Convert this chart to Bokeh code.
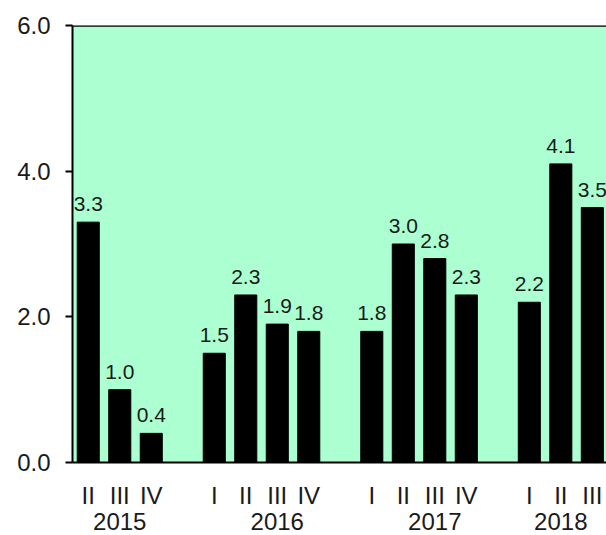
from bokeh.plotting import figure
from bokeh.models import LinearAxis, FixedTicker, Span, ColumnDataSource, Range1d
from bokeh.core.properties import value
from bokeh.embed import file_html
from bokeh.resources import INLINE

# data
quarters = ["II", "III", "IV", "I", "II", "III", "IV", "I", "II", "III", "IV", "I", "II", "III"]
years = ["2015", "2016", "2017", "2018"]
year_of = ["2015"] * 3 + ["2016"] * 4 + ["2017"] * 4 + ["2018"] * 3
values = [3.3, 1.0, 0.4, 1.5, 2.3, 1.9, 1.8, 1.8, 3.0, 2.8, 2.3, 2.2, 4.1, 3.5]
y_ticks = [0, 2, 4, 6]
y_tick_labels = ["0.0", "2.0", "4.0", "6.0"]

# slot positions with one empty slot between years
pos = []
slot = 0
prev = None
for yv in year_of:
    if prev is not None and yv != prev:
        slot += 1
    pos.append(slot)
    slot += 1
    prev = yv

year_pos = {"2015": 1, "2016": 6, "2017": 11, "2018": 15}

FONT = "Liberation Sans"
BG = "#ABFFD1"

p = figure(width=606, height=535, output_backend="svg", toolbar_location=None,
           x_range=Range1d(-0.5, 16.45), y_range=Range1d(0, 6),
           min_border_left=72, min_border_right=0, min_border_top=25, min_border_bottom=73)
p.background_fill_color = BG
p.border_fill_color = "white"
p.outline_line_color = None
p.grid.visible = False

src = ColumnDataSource(dict(x=pos, top=values, lab=[f"{v:.1f}" for v in values]))
p.vbar(x="x", top="top", bottom=0, width=0.7, source=src, fill_color="black", line_color="black")
p.text(x="x", y="top", text="lab", source=src, text_align="center", text_baseline="alphabetic",
       y_offset=-18, text_font=value(FONT), text_font_size="21px", text_color="#1a1a1a")

# top border line
p.add_layout(Span(location=6, dimension="width", line_color="black", line_width=2.5))

# y axis
ya = p.yaxis[0]
ya.ticker = FixedTicker(ticks=y_ticks)
ya.major_label_overrides = {t: l for t, l in zip(y_ticks, y_tick_labels)}
ya.axis_line_width = 2
ya.axis_line_color = "black"
ya.major_tick_line_width = 2
ya.major_tick_out = 7
ya.major_tick_in = 0
ya.minor_tick_line_color = None
ya.major_label_text_font = FONT
ya.major_label_text_font_size = "24px"
ya.major_label_text_color = "#1a1a1a"
ya.major_label_standoff = 15

# x axis with quarter labels
xa = p.xaxis[0]
xa.ticker = FixedTicker(ticks=pos)
xa.major_label_overrides = {x: q for x, q in zip(pos, quarters)}
xa.axis_line_width = 2
xa.axis_line_color = "black"
xa.major_tick_line_color = None
xa.minor_tick_line_color = None
xa.major_tick_out = 0
xa.major_tick_in = 0
xa.major_label_text_font = FONT
xa.major_label_text_font_size = "24px"
xa.major_label_text_color = "#1a1a1a"
xa.major_label_standoff = 19

# year axis
ya2 = LinearAxis(ticker=FixedTicker(ticks=list(year_pos.values())))
ya2.major_label_overrides = {v: k for k, v in year_pos.items()}
ya2.axis_line_color = None
ya2.major_tick_line_color = None
ya2.minor_tick_line_color = None
ya2.major_tick_out = 0
ya2.major_tick_in = 0
ya2.major_label_text_font = FONT
ya2.major_label_text_font_size = "24px"
ya2.major_label_text_color = "#1a1a1a"
ya2.major_label_standoff = 1
p.add_layout(ya2, "below")

open("out.html", "w").write(file_html(p, INLINE))
